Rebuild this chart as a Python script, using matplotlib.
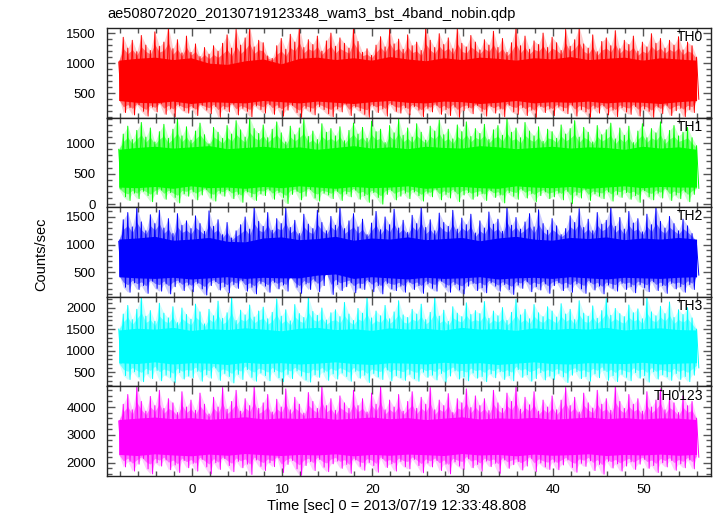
import numpy as np
import matplotlib
matplotlib.use('Agg')
import matplotlib.pyplot as plt
from matplotlib.ticker import MultipleLocator

plt.rcParams['font.family'] = ['Liberation Sans', 'DejaVu Sans']

title = 'ae508072020_20130719123348_wam3_bst_4band_nobin.qdp'
xlabel = 'Time [sec] 0 = 2013/07/19 12:33:48.808'
ylabel = 'Counts/sec'
bands = ['TH0', 'TH1', 'TH2', 'TH3', 'TH0123']
colors = ['#ff0000', '#00ff00', '#0000ff', '#00ffff', '#ff00ff']

# light curve excursions read every 0.5 s (upper / lower extremes)
t_start, t_step = -8.1, 0.5

th0_hi = [1020, 1430, 1250, 1380, 1190, 1460, 1300, 1210, 1520, 1280, 1350, 1600, 1240, 1390, 1170, 1450,
          1180, 1320, 1110, 1260, 1150, 1290, 1200, 1330, 1470, 1250, 1560, 1300, 1420, 1600, 1270, 1380,
          1340, 1120, 1080, 1290, 1410, 1230, 1480, 1350, 1600, 1260, 1390, 1310, 1450, 1200, 1370, 1500,
          1280, 1420, 1330, 1250, 1600, 1360, 1180, 1240, 1130, 1300, 1440, 1270, 1560, 1320, 1400, 1230,
          1470, 1290, 1350, 1210, 1600, 1380, 1260, 1490, 1310, 1420, 1240, 1580, 1330, 1270, 1460, 1350,
          1220, 1390, 1300, 1530, 1260, 1410, 1180, 1340, 1600, 1290, 1450, 1230, 1370, 1310, 1500, 1260,
          1430, 1340, 1210, 1560, 1280, 1390, 1600, 1320, 1250, 1470, 1190, 1360, 1420, 1290, 1540, 1240,
          1380, 1310, 1450, 1200, 1350, 1270, 1490, 1330, 1410, 1250, 1380, 1300, 1440, 1220, 1350, 1290,
          1100]
th0_lo = [420, 180, 260, 140, 310, 200, 120, 270, 190, 330, 150, 240, 110, 290, 210, 170,
          260, 130, 300, 220, 160, 280, 100, 240, 190, 320, 140, 250, 200, 110, 290, 230,
          170, 310, 150, 260, 120, 220, 300, 180, 100, 250, 200, 140, 280, 230, 160, 110,
          240, 190, 320, 130, 270, 210, 150, 100, 290, 180, 240, 120, 310, 200, 170, 260,
          140, 280, 220, 110, 250, 190, 300, 150, 230, 130, 270, 100, 210, 260, 160, 300,
          200, 120, 280, 170, 240, 110, 300, 190, 150, 260, 130, 220, 100, 280, 180, 240,
          130, 270, 210, 160, 300, 120, 230, 190, 100, 250, 170, 290, 140, 220, 110, 260,
          190, 150, 280, 120, 240, 200, 100, 270, 160, 300, 130, 210, 250, 110, 230, 180,
          400]

th1_hi = [900, 1150, 1280, 1060, 1210, 1340, 1100, 1250, 1020, 1190, 1310, 1080, 1230, 1400, 1120, 1270,
          1050, 1200, 1330, 1140, 990, 1260, 1180, 1080, 1290, 1150, 1370, 1220, 1100, 1420, 1240, 1160,
          1300, 1090, 1230, 1350, 1170, 1020, 1280, 1140, 1250, 1390, 1110, 1200, 1060, 1320, 1180, 1240,
          1120, 1270, 1040, 1210, 1330, 1150, 1260, 1080, 1360, 1190, 1230, 1010, 1290, 1170, 1400, 1130,
          1250, 1100, 1320, 1180, 1050, 1280, 1200, 1380, 1140, 1230, 1070, 1300, 1190, 1350, 1110, 1240,
          1160, 1310, 1060, 1220, 1290, 1130, 1410, 1180, 1250, 1090, 1340, 1200, 1120, 1270, 1030, 1230,
          1190, 1080, 1300, 1150, 1240, 1370, 1100, 1260, 1180, 1020, 1290, 1140, 1220, 1330, 1070, 1250,
          1130, 1280, 1010, 1200, 1320, 1090, 1240, 1170, 1350, 1060, 1210, 1290, 1120, 1180, 1260, 1090,
          960]
th1_lo = [250, 120, 60, 180, 90, 210, 140, 40, 160, 230, 80, 190, 110, 20, 170, 130,
          200, 70, 150, 240, 100, 50, 180, 130, 220, 90, 160, 30, 200, 120, 60, 170,
          140, 230, 80, 190, 110, 10, 160, 210, 70, 130, 240, 100, 50, 180, 150, 90,
          210, 60, 170, 120, 230, 80, 140, 30, 190, 110, 0, 160, 220, 70, 130, 180,
          90, 200, 140, 50, 180, 120, 240, 70, 160, 100, 210, 40, 150, 190, 80, 130,
          170, 60, 220, 110, 150, 20, 190, 130, 80, 230, 100, 170, 40, 140, 200, 90,
          120, 180, 70, 210, 10, 150, 100, 240, 60, 170, 130, 90, 200, 50, 160, 110,
          190, 80, 140, 30, 220, 120, 70, 180, 100, 240, 60, 150, 90, 200, 40, 160,
          260]

th2_hi = [1060, 1450, 1580, 1320, 1680, 1410, 1250, 1540, 1380, 1620, 1300, 1470, 1200, 1560, 1350, 1430,
          1290, 1520, 1380, 1240, 1610, 1330, 1450, 1180, 1400, 1120, 1250, 1360, 1500, 1280, 1680, 1420,
          1330, 1580, 1260, 1470, 1380, 1660, 1310, 1440, 1200, 1550, 1370, 1290, 1620, 1400, 1250, 1510,
          1350, 1680, 1290, 1430, 1560, 1320, 1460, 1180, 1390, 1600, 1270, 1500, 1360, 1640, 1300, 1440,
          1220, 1530, 1380, 1680, 1310, 1450, 1250, 1570, 1400, 1330, 1620, 1280, 1480, 1360, 1550, 1210,
          1430, 1300, 1590, 1370, 1460, 1240, 1680, 1350, 1490, 1280, 1410, 1560, 1320, 1630, 1380, 1260,
          1470, 1340, 1180, 1290, 1520, 1400, 1650, 1310, 1460, 1250, 1580, 1370, 1440, 1680, 1330, 1490,
          1280, 1600, 1390, 1470, 1230, 1550, 1360, 1680, 1420, 1300, 1510, 1380, 1250, 1460, 1340, 1200,
          1000]
th2_lo = [480, 230, 140, 310, 190, 260, 120, 340, 210, 160, 290, 110, 240, 320, 170, 270,
          150, 300, 200, 90, 260, 330, 180, 240, 130, 280, 210, 350, 160, 230, 110, 300,
          250, 140, 320, 200, 270, 160, 450, 230, 120, 290, 190, 340, 150, 260, 520, 100,
          280, 170, 240, 310, 130, 220, 190, 330, 150, 260, 110, 300, 200, 170, 250, 140,
          320, 190, 260, 120, 290, 210, 160, 340, 230, 140, 280, 180, 110, 250, 300, 170,
          220, 130, 310, 250, 160, 280, 190, 100, 270, 210, 330, 150, 240, 180, 290, 120,
          260, 310, 170, 230, 140, 290, 200, 120, 320, 180, 250, 110, 270, 210, 160, 300,
          190, 240, 130, 280, 220, 150, 330, 170, 260, 120, 300, 200, 240, 140, 280, 190,
          450]

th3_hi = [1500, 1850, 2050, 1720, 1960, 2250, 1800, 1930, 1680, 2100, 1870, 1760, 2020, 1650, 1990, 1840,
          1730, 2080, 1900, 1620, 1960, 1810, 2150, 1750, 1880, 2250, 1700, 1940, 1830, 2060, 1780, 1920,
          2010, 1740, 1890, 2200, 1800, 1950, 1690, 2070, 1860, 1770, 2250, 1910, 1820, 1990, 1710, 1880,
          1950, 1790, 2120, 1850, 1700, 1980, 1870, 2230, 1760, 1920, 1810, 2050, 1740, 1900, 2160, 1830,
          1770, 1960, 1850, 2080, 1720, 1890, 2250, 1800, 1940, 1680, 2020, 1870, 1790, 2110, 1840, 1930,
          1860, 2140, 1750, 1920, 1810, 2000, 1700, 1890, 2190, 1830, 1960, 1740, 2070, 1880, 1790, 2020,
          1920, 1780, 2090, 1850, 1960, 1720, 2160, 1870, 1800, 2040, 1750, 1930, 2210, 1820, 1980, 1860,
          1790, 2060, 1880, 1970, 1740, 2240, 1900, 1810, 2030, 1860, 2130, 1770, 1950, 1840, 2000, 1760,
          1500]
th3_lo = [700, 420, 330, 510, 390, 280, 460, 350, 540, 300, 430, 380, 260, 490, 340, 410,
          370, 520, 290, 440, 360, 600, 310, 470, 400, 250, 450, 330, 560, 380, 290, 480,
          420, 300, 510, 370, 280, 450, 350, 530, 410, 320, 270, 440, 380, 500, 310, 460,
          340, 480, 400, 290, 520, 360, 430, 260, 470, 390, 330, 550, 300, 420, 370, 310,
          450, 350, 290, 500, 380, 430, 320, 470, 270, 410, 530, 340, 390, 300, 480, 360,
          400, 280, 460, 370, 510, 330, 420, 300, 560, 380, 440, 290, 350, 490, 320, 410,
          330, 470, 390, 260, 430, 510, 350, 400, 290, 460, 370, 540, 310, 420, 280, 450,
          380, 300, 490, 360, 420, 270, 510, 340, 440, 390, 310, 470, 330, 400, 280, 430,
          600]

th0123_hi = [3500, 4100, 4450, 3900, 4740, 4200, 3850, 4380, 4050, 4600, 3950, 4300, 4150, 3800, 4550, 4000,
             4250, 3880, 4500, 4100, 3750, 4350, 4000, 4700, 3920, 4200, 4600, 3850, 4300, 4050, 4740, 3950,
             4150, 4450, 3820, 4280, 4000, 4650, 3900, 4350, 4100, 3780, 4520, 4200, 3950, 4740, 4050, 4300,
             3880, 4400, 4150, 3950, 4600, 4050, 4300, 3820, 4500, 4100, 4740, 3900, 4250, 4000, 4450, 3850,
             4200, 4550, 3950, 4350, 4100, 4700, 3900, 4250, 4050, 4480, 3800, 4300, 4150, 4650, 3980, 4400,
             4050, 4300, 3870, 4600, 4150, 3950, 4500, 4200, 4740, 3920, 4350, 4080, 4550, 3850, 4250, 4000,
             4400, 3900, 4250, 4700, 4050, 4350, 3820, 4500, 4150, 3960, 4600, 4100, 4300, 3880, 4740, 4200,
             3950, 4450, 4100, 4300, 3850, 4550, 4000, 4250, 4650, 3900, 4350, 4150, 3800, 4400, 4050, 4200,
             3600]
th0123_lo = [2300, 1850, 2050, 1700, 1950, 2150, 1780, 1600, 2000, 1880, 2100, 1750, 1920, 1650, 2080, 1820,
             1980, 1700, 2120, 1850, 1600, 2000, 1760, 2150, 1900, 1680, 2050, 1820, 1950, 1580, 2100, 1870,
             1720, 2000, 1860, 2180, 1650, 1940, 2080, 1780, 1550, 1900, 2040, 1720, 2120, 1840, 1680, 1960,
             2060, 1800, 1940, 1620, 2100, 1870, 1730, 2010, 1900, 1660, 2150, 1830, 1960, 1700, 2050, 1860,
             1780, 2120, 1900, 1640, 1990, 1850, 2080, 1720, 1950, 1600, 2030, 1880, 1760, 2140, 1820, 1940,
             1700, 2060, 1860, 1980, 1620, 2100, 1800, 1930, 2040, 1740, 1880, 2150, 1680, 1990, 1850, 1760,
             2020, 1750, 1920, 2100, 1830, 1660, 1980, 1870, 2070, 1720, 1940, 1590, 2050, 1810, 1960, 1700,
             1880, 2030, 1760, 1950, 2120, 1800, 1900, 1650, 2000, 1850, 2080, 1730, 1960, 1820, 2100, 1780,
             2200]

# dense core of the noise band, read every 2 s
core_step = 2.0
th0_core_hi = [1050, 1080, 1100, 1060, 1090, 1000, 980, 1040, 1070, 990, 1080, 1100, 1060, 1090, 1050, 1110, 1070,
               1040, 1090, 1060, 1100, 1080, 1050, 1090, 1070, 1110, 1060, 1080, 1100, 1050, 1090, 1070, 1050]
th0_core_lo = [380, 350, 340, 370, 330, 360, 350, 340, 380, 360, 340, 370, 350, 330, 360, 380, 350,
               340, 370, 360, 330, 350, 380, 340, 360, 350, 370, 340, 360, 350, 330, 360, 380]
th1_core_hi = [900, 930, 950, 920, 940, 960, 910, 930, 950, 920, 940, 900, 930, 960, 920, 940, 910,
               950, 930, 920, 960, 940, 910, 930, 950, 920, 940, 930, 900, 950, 920, 940, 900]
th1_core_lo = [280, 270, 290, 260, 300, 270, 280, 260, 290, 270, 300, 280, 260, 290, 270, 280, 300,
               260, 280, 290, 270, 260, 300, 280, 270, 290, 260, 280, 300, 270, 290, 280, 280]
th2_core_hi = [1100, 1120, 1150, 1080, 1100, 1130, 1060, 1050, 1120, 1140, 1090, 1110, 1150, 1080, 1120, 1100, 1140,
               1090, 1110, 1130, 1070, 1120, 1150, 1100, 1080, 1130, 1110, 1140, 1090, 1120, 1100, 1130, 1100]
th2_core_lo = [420, 400, 390, 410, 380, 400, 420, 390, 410, 400, 400, 450, 470, 390, 420, 400, 380,
               410, 390, 400, 420, 380, 400, 410, 390, 420, 400, 380, 410, 400, 390, 410, 420]
th3_core_hi = [1480, 1520, 1500, 1540, 1470, 1510, 1490, 1530, 1500, 1460, 1520, 1540, 1490, 1510, 1470, 1530, 1500,
               1520, 1480, 1540, 1500, 1510, 1470, 1530, 1490, 1520, 1500, 1540, 1480, 1510, 1530, 1490, 1480]
th3_core_lo = [720, 700, 740, 690, 720, 710, 680, 730, 700, 720, 690, 710, 740, 700, 680, 720, 710,
               690, 730, 700, 720, 680, 710, 740, 700, 690, 720, 710, 700, 730, 690, 710, 720]
th0123_core_hi = [3550, 3600, 3640, 3580, 3620, 3560, 3600, 3650, 3570, 3610, 3590, 3630, 3560, 3600, 3640, 3580, 3620,
                  3550, 3600, 3650, 3570, 3610, 3590, 3630, 3560, 3600, 3640, 3580, 3620, 3570, 3610, 3600, 3550]
th0123_core_lo = [2300, 2260, 2320, 2280, 2250, 2310, 2270, 2330, 2290, 2260, 2300, 2280, 2320, 2250, 2300, 2270, 2310,
                  2290, 2260, 2330, 2280, 2300, 2250, 2310, 2270, 2290, 2320, 2260, 2300, 2280, 2310, 2270, 2300]

y_limits = [(96, 1584), (-50, 1420), (58, 1676), (170, 2250), (1525, 4740)]
y_major = [500, 500, 500, 500, 1000]
y_minor = [100, 100, 100, 100, 200]

his = [th0_hi, th1_hi, th2_hi, th3_hi, th0123_hi]
los = [th0_lo, th1_lo, th2_lo, th3_lo, th0123_lo]
core_his = [th0_core_hi, th1_core_hi, th2_core_hi, th3_core_hi, th0123_core_hi]
core_los = [th0_core_lo, th1_core_lo, th2_core_lo, th3_core_lo, th0123_core_lo]

fig, axes = plt.subplots(5, 1, sharex=True, figsize=(7.17, 5.16), dpi=100)
fig.subplots_adjust(left=107/717, right=711/717, top=1-28/516, bottom=1-476/516, hspace=0)

for i, ax in enumerate(axes):
    hi = np.array(his[i])
    lo = np.array(los[i])
    t = t_start + t_step * np.arange(len(hi))
    tc = t_start + core_step * np.arange(len(core_his[i]))
    c = colors[i]

    # core edges at the fine sampling, and a half-way band between core and extremes
    chi = np.interp(t, tc, core_his[i])
    clo = np.interp(t, tc, core_los[i])
    mhi = (chi + hi) / 2
    mlo = (clo + lo) / 2

    # interleave the extremes into one light curve (hi at t, lo half a step later)
    tt = np.ravel(np.column_stack([t, t + t_step / 2]))
    yy = np.ravel(np.column_stack([hi, lo]))

    ax.fill_between(t, lo, hi, color=c, alpha=0.2, lw=0)
    ax.fill_between(t, mlo, mhi, color=c, alpha=0.45, lw=0)
    ax.plot(tt, yy, color=c, lw=0.7)
    ax.fill_between(t, clo, chi, color=c, lw=0)

    ax.set_xlim(-9.4, 57.5)
    ax.set_ylim(*y_limits[i])
    ax.xaxis.set_major_locator(MultipleLocator(10))
    ax.xaxis.set_minor_locator(MultipleLocator(2))
    ax.yaxis.set_major_locator(MultipleLocator(y_major[i]))
    ax.yaxis.set_minor_locator(MultipleLocator(y_minor[i]))
    ax.tick_params(which='both', direction='in', top=True, right=True,
                   colors='#555555', labelcolor='black', labelsize=9.5, width=1)
    ax.tick_params(which='major', length=5.5)
    ax.tick_params(which='minor', length=3.5)
    ax.tick_params(axis='y', pad=8)
    ax.tick_params(axis='x', pad=6)
    for s in ax.spines.values():
        s.set_color('#222222')
        s.set_linewidth(1)
    ax.text(0.987, 0.975, bands[i], transform=ax.transAxes, ha='right', va='top', fontsize=10)

fig.text(107/717, 1-14/516, title, ha='left', va='center', fontsize=10.5)
fig.text(397/717, 1-506/516, xlabel, ha='center', va='center', fontsize=10.5)
fig.text(41/717, 1-254/516, ylabel, ha='center', va='center', rotation=90, fontsize=10.5)

fig.savefig('out.png', dpi=100)
